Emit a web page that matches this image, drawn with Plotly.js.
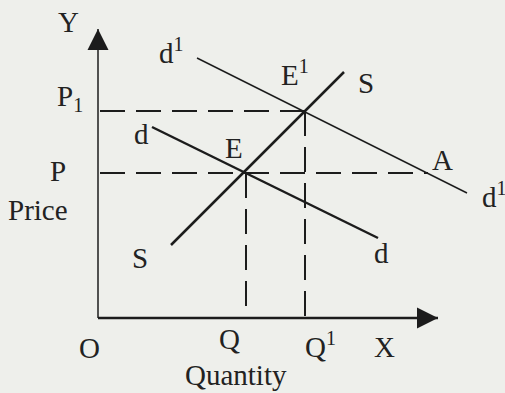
<!DOCTYPE html>
<html>
<head>
<meta charset="utf-8">
<script src="https://cdn.plot.ly/plotly-3.0.1.min.js"></script>
<style>html,body{margin:0;padding:0;background:#eeefeb;}#chart{width:505px;height:393px;}</style>
</head>
<body>
<div id="chart"></div>
<script>
// Conceptual units: quantity on x, price on y (origin O at 0,0)
const supplyQ = [3.65, 12.3];
const supplyP = [3.65, 12.3];
const demandQ = [2.7, 14.0];
const demandP = [9.55, 4.0];
const demand1Q = [4.95, 18.45];
const demand1P = [13.0, 6.25];
const eqQ = 7.4, eqP = 7.25;      // E
const eq1Q = 10.35, eq1P = 10.35; // E1
const pointAQ = 16.5;             // A (new demand at old price)
const axisYTop = 14.45;
const axisXEnd = 17.0;

const ink = '#1c1c1c';
const dash = '25px,11px';
const traces = [
  // axes
  {x:[0,0], y:[0,axisYTop], mode:'lines', line:{color:ink,width:1.5}},
  {x:[0,axisXEnd], y:[0,0], mode:'lines', line:{color:ink,width:2.5}},
  {x:[0], y:[axisYTop], mode:'markers', marker:{symbol:'arrow-up', size:21, color:ink, line:{width:0}}},
  {x:[axisXEnd], y:[0], mode:'markers', marker:{symbol:'arrow-right', size:21, color:ink, line:{width:0}}},
  // dashed guides
  {x:[0.1, eq1Q], y:[eq1P, eq1P], mode:'lines', line:{color:ink,width:2,dash:dash}},
  {x:[0.1, pointAQ], y:[eqP, eqP], mode:'lines', line:{color:ink,width:2,dash:dash}},
  {x:[eqQ, eqQ], y:[eqP, 0.1], mode:'lines', line:{color:ink,width:2,dash:dash}},
  {x:[eq1Q, eq1Q], y:[eq1P, 0.1], mode:'lines', line:{color:ink,width:2,dash:dash}},
  // curves
  {x:supplyQ, y:supplyP, mode:'lines', line:{color:ink,width:2.5}},
  {x:demandQ, y:demandP, mode:'lines', line:{color:ink,width:2.5}},
  {x:demand1Q, y:demand1P, mode:'lines', line:{color:ink,width:1.4}}
];

const one = "<span style='font-size:20px'>1</span>";
const labels = [
  {t:'Y', x:-1.5, y:14.8},
  {t:'P<sub>'+one+'</sub>', x:-2.15, y:11.0, a:'left'},
  {t:'d<sup>'+one+'</sup>', x:2.95, y:13.35, a:'left'},
  {t:'E<sup>'+one+'</sup>', x:9.05, y:12.25, a:'left'},
  {t:'S', x:13.4, y:11.75},
  {t:'d', x:2.15, y:9.2},
  {t:'E', x:6.8, y:8.5},
  {t:'P', x:-2.0, y:7.35},
  {t:'A', x:17.2, y:7.9},
  {t:'d<sup>'+one+'</sup>', x:19.1, y:6.15, a:'left'},
  {t:'Price', x:-3.0, y:5.4},
  {t:'S', x:2.1, y:3.0},
  {t:'d', x:14.15, y:3.25},
  {t:'O', x:-0.45, y:-1.5},
  {t:'Q', x:6.55, y:-1.05},
  {t:'Q<sup>'+one+'</sup>', x:10.25, y:-1.35, a:'left'},
  {t:'X', x:14.3, y:-1.45},
  {t:'Quantity', x:6.9, y:-2.85}
];

const annotations = labels.map(l => ({
  text:l.t, x:l.x, y:l.y, xref:'x', yref:'y', showarrow:false,
  xanchor:l.a || 'center', yanchor:'middle',
  font:{family:'Liberation Serif, Times New Roman, serif', size:29, color:'#222'}
}));

const layout = {
  width:505, height:393,
  margin:{l:0,r:0,t:0,b:0},
  paper_bgcolor:'#eeefeb', plot_bgcolor:'#eeefeb',
  showlegend:false,
  xaxis:{range:[-4.9,20.35], visible:false, fixedrange:true},
  yaxis:{range:[-3.75,15.9], visible:false, fixedrange:true},
  annotations:annotations
};
Plotly.newPlot('chart', traces, layout, {staticPlot:true, displayModeBar:false});
</script>
</body>
</html>
